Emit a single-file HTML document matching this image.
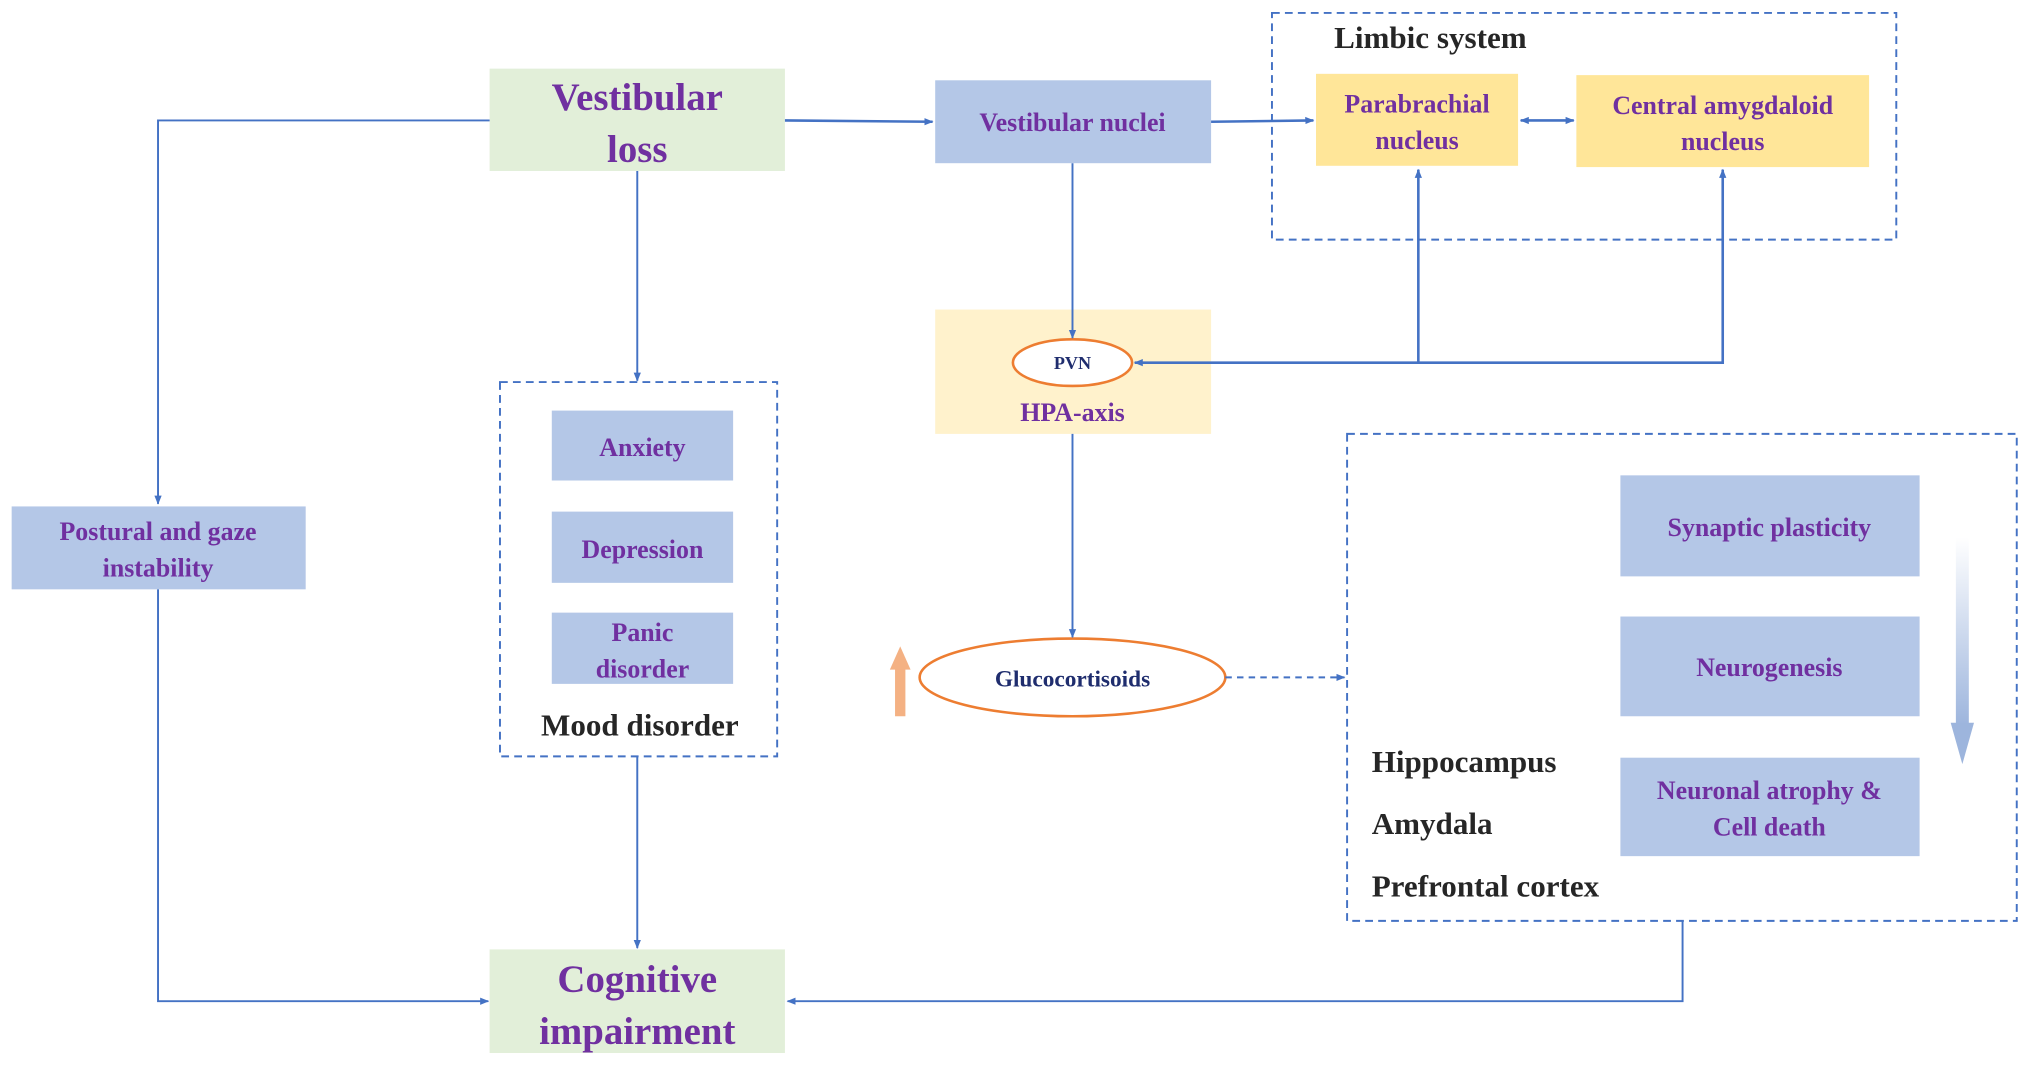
<!DOCTYPE html>
<html><head><meta charset="utf-8"><style>
html,body{margin:0;padding:0;background:#fff;width:2031px;height:1067px;overflow:hidden}
svg{display:block}
text{font-family:"Liberation Serif",serif;font-weight:bold}
.p{fill:#7030a0}
.k{fill:#262626}
.n{fill:#1f2d6e}
</style></head><body>
<svg width="2031" height="1067" viewBox="0 0 1568 823.8" preserveAspectRatio="none" xmlns="http://www.w3.org/2000/svg">
<defs>
<marker id="a" viewBox="0 0 10 10" refX="9" refY="5" markerWidth="7" markerHeight="7" orient="auto-start-reverse" markerUnits="userSpaceOnUse"><path d="M0,1 L10,5 L0,9 z" fill="#4472c4"/></marker>
<linearGradient id="g" x1="0" y1="0" x2="0" y2="1"><stop offset="0" stop-color="#fff"/><stop offset="1" stop-color="#9db5dd"/></linearGradient>
</defs>
<!-- boxes -->
<rect x="378" y="53" width="228" height="79" fill="#e2efd9"/>
<rect x="722" y="62" width="213" height="64" fill="#b4c7e7"/>
<rect x="982" y="10" width="482" height="175" fill="none" stroke="#4472c4" stroke-width="1.5" stroke-dasharray="6,4"/>
<rect x="1016" y="57" width="156" height="71" fill="#ffe699"/>
<rect x="1217" y="58" width="226" height="71" fill="#ffe699"/>
<rect x="722" y="239" width="213" height="96" fill="#fff2cc"/>
<rect x="386" y="295" width="214" height="289" fill="none" stroke="#4472c4" stroke-width="1.5" stroke-dasharray="6,4"/>
<rect x="426" y="317" width="140" height="54" fill="#b4c7e7"/>
<rect x="426" y="395" width="140" height="55" fill="#b4c7e7"/>
<rect x="426" y="473" width="140" height="55" fill="#b4c7e7"/>
<rect x="9" y="391" width="227" height="64" fill="#b4c7e7"/>
<rect x="378" y="733" width="228" height="80" fill="#e2efd9"/>
<rect x="1040" y="335" width="517" height="376" fill="none" stroke="#4472c4" stroke-width="1.5" stroke-dasharray="6,4"/>
<rect x="1251" y="367" width="231" height="78" fill="#b4c7e7"/>
<rect x="1251" y="476" width="231" height="77" fill="#b4c7e7"/>
<rect x="1251" y="585" width="231" height="76" fill="#b4c7e7"/>
<!-- gradient arrow -->
<rect x="1510" y="415" width="10" height="145" fill="url(#g)"/>
<path d="M1506,558 L1524,558 L1515,590 z" fill="#9db5dd"/>
<!-- orange up arrow -->
<rect x="691" y="515" width="8" height="38" fill="#f4b183"/>
<path d="M687,517 L703,517 L695,499 z" fill="#f4b183"/>
<!-- ellipses -->
<ellipse cx="828" cy="280" rx="46" ry="18" fill="#fff" stroke="#ed7d31" stroke-width="2"/>
<ellipse cx="828" cy="523" rx="118" ry="30" fill="#fff" stroke="#ed7d31" stroke-width="2"/>
<!-- connectors -->
<g stroke="#4472c4" stroke-width="1.5" fill="none">
<polyline points="378,93 122,93 122,389" marker-end="url(#a)"/>
<polyline points="122,455 122,773 377,773" marker-end="url(#a)"/>
<line x1="492" y1="132" x2="492" y2="294" marker-end="url(#a)"/>
<line x1="492" y1="584" x2="492" y2="732" marker-end="url(#a)"/>
<line x1="606" y1="93" x2="720" y2="94" stroke-width="2" marker-end="url(#a)"/>
<line x1="935" y1="94" x2="1014" y2="93" stroke-width="2" marker-end="url(#a)"/>
<line x1="1174" y1="93" x2="1215" y2="93" stroke-width="2" marker-start="url(#a)" marker-end="url(#a)"/>
<line x1="828" y1="126" x2="828" y2="261" marker-end="url(#a)"/>
<polyline points="1330,131 1330,280 876,280" stroke-width="2" marker-start="url(#a)" marker-end="url(#a)"/>
<line x1="1095" y1="280" x2="1095" y2="131" stroke-width="2" marker-end="url(#a)"/>
<line x1="828" y1="335" x2="828" y2="492" marker-end="url(#a)"/>
<line x1="946" y1="523" x2="1038" y2="523" stroke-dasharray="5,4" marker-end="url(#a)"/>
<polyline points="1299,711 1299,773 608,773" marker-end="url(#a)"/>
</g>
<!-- text -->
<g text-anchor="middle">
<text x="492" y="85" font-size="30" class="p">Vestibular</text>
<text x="492" y="125" font-size="30" class="p">loss</text>
<text x="828" y="101" font-size="20" class="p">Vestibular nuclei</text>
<text x="1094" y="87" font-size="20" class="p">Parabrachial</text>
<text x="1094" y="115" font-size="20" class="p">nucleus</text>
<text x="1330" y="88" font-size="20" class="p">Central amygdaloid</text>
<text x="1330" y="116" font-size="20" class="p">nucleus</text>
<text x="828" y="285" font-size="14" class="n">PVN</text>
<text x="828" y="325" font-size="20" class="p">HPA-axis</text>
<text x="496" y="352" font-size="20" class="p">Anxiety</text>
<text x="496" y="431" font-size="20" class="p">Depression</text>
<text x="496" y="495" font-size="20" class="p">Panic</text>
<text x="496" y="523" font-size="20" class="p">disorder</text>
<text x="494" y="568" font-size="24" class="k">Mood disorder</text>
<text x="122" y="417" font-size="20" class="p">Postural and gaze</text>
<text x="122" y="445" font-size="20" class="p">instability</text>
<text x="492" y="766" font-size="30" class="p">Cognitive</text>
<text x="492" y="806" font-size="30" class="p">impairment</text>
<text x="828" y="530" font-size="18" class="n">Glucocortisoids</text>
<text x="1366" y="414" font-size="20" class="p">Synaptic plasticity</text>
<text x="1366" y="522" font-size="20" class="p">Neurogenesis</text>
<text x="1366" y="617" font-size="20" class="p">Neuronal atrophy &amp;</text>
<text x="1366" y="645" font-size="20" class="p">Cell death</text>
</g>
<text x="1030" y="37" font-size="24" class="k">Limbic system</text>
<text x="1059" y="596" font-size="24" class="k">Hippocampus</text>
<text x="1059" y="644" font-size="24" class="k">Amydala</text>
<text x="1059" y="692" font-size="24" class="k">Prefrontal cortex</text>
</svg>
</body></html>
